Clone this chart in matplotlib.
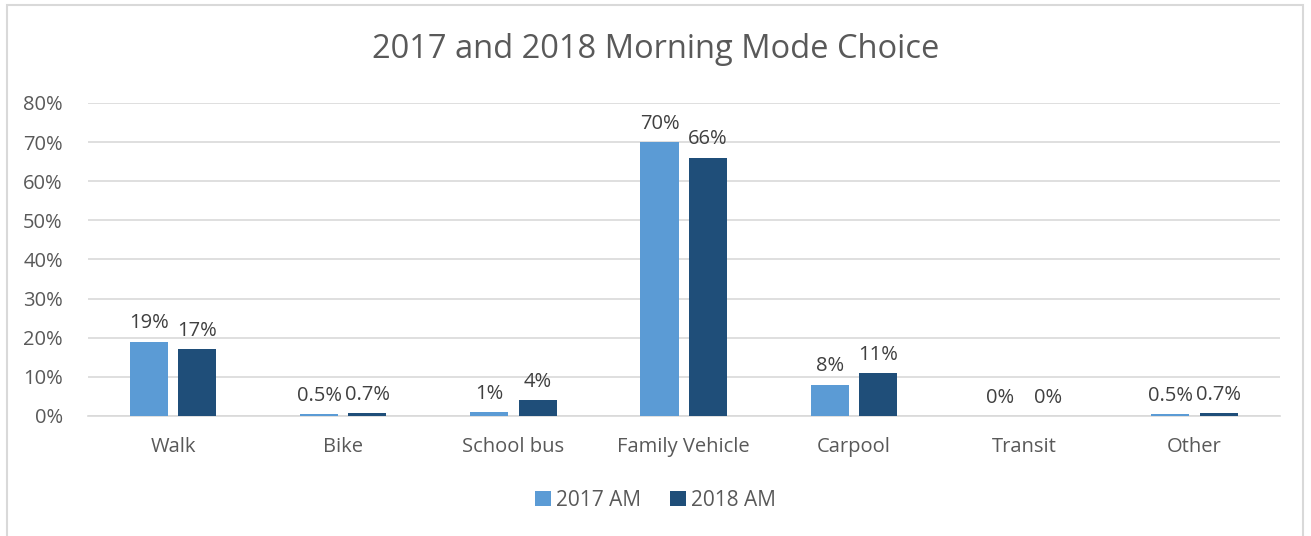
import numpy as np
import matplotlib
matplotlib.use("Agg")
import matplotlib.pyplot as plt
from matplotlib.patches import Rectangle

categories = ["Walk", "Bike", "School bus", "Family Vehicle", "Carpool", "Transit", "Other"]
am_2017 = [19, 0.5, 1, 70, 8, 0, 0.5]
am_2018 = [17, 0.7, 4, 66, 11, 0, 0.7]
series_names = ["2017 AM", "2018 AM"]
yticks = [0, 10, 20, 30, 40, 50, 60, 70, 80]

plt.rcParams['font.family'] = ['Open Sans', 'DejaVu Sans']
txt = "#595959"

fig = plt.figure(figsize=(13.11, 5.36), dpi=100)
ax = fig.add_axes([0.067, 0.224, 0.909, 0.584])

x = np.arange(len(categories))
w = 0.224
off = 0.142
b1 = ax.bar(x - off, am_2017, w, color="#5B9BD5", label=series_names[0], zorder=3)
b2 = ax.bar(x + off, am_2018, w, color="#1F4E79", label=series_names[1], zorder=3)

for bars, vals in [(b1, am_2017), (b2, am_2018)]:
    for r, v in zip(bars, vals):
        ax.annotate("{:g}%".format(v), (r.get_x() + r.get_width() / 2, v),
                    xytext=(0, 6), textcoords="offset points",
                    ha="center", va="bottom", fontsize=14.5, color="#404040")

ax.set_xlim(-0.5, len(categories) - 0.5)
ax.set_ylim(0, 80)
ax.set_yticks(yticks)
ax.set_yticklabels(["{}%".format(t) for t in yticks])
ax.set_xticks(x)
ax.set_xticklabels(categories)
ax.tick_params(axis="both", length=0, labelsize=14.5, colors=txt)
ax.tick_params(axis="x", pad=15)
ax.tick_params(axis="y", pad=18)
ax.grid(axis="y", color="#D9D9D9", linewidth=1.2, zorder=0)
for s in ["top", "right", "left"]:
    ax.spines[s].set_visible(False)
ax.spines["bottom"].set_color("#D9D9D9")
ax.spines["bottom"].set_linewidth(1.2)

fig.text(0.5, 0.907, "2017 and 2018 Morning Mode Choice", ha="center", va="center",
         fontsize=23.5, color=txt)

ax.legend(loc="center", bbox_to_anchor=(0.5, 0.066), bbox_transform=fig.transFigure,
          ncol=2, frameon=False, fontsize=15, handlelength=0.75, handleheight=0.75,
          columnspacing=1.4, handletextpad=0.25, labelcolor=txt)

fig.patches.append(Rectangle((0.005, -0.01), 0.989, 1.0, transform=fig.transFigure,
                             fill=False, edgecolor="#D9D9D9", linewidth=1.5))

fig.savefig("out.png", dpi=100)
